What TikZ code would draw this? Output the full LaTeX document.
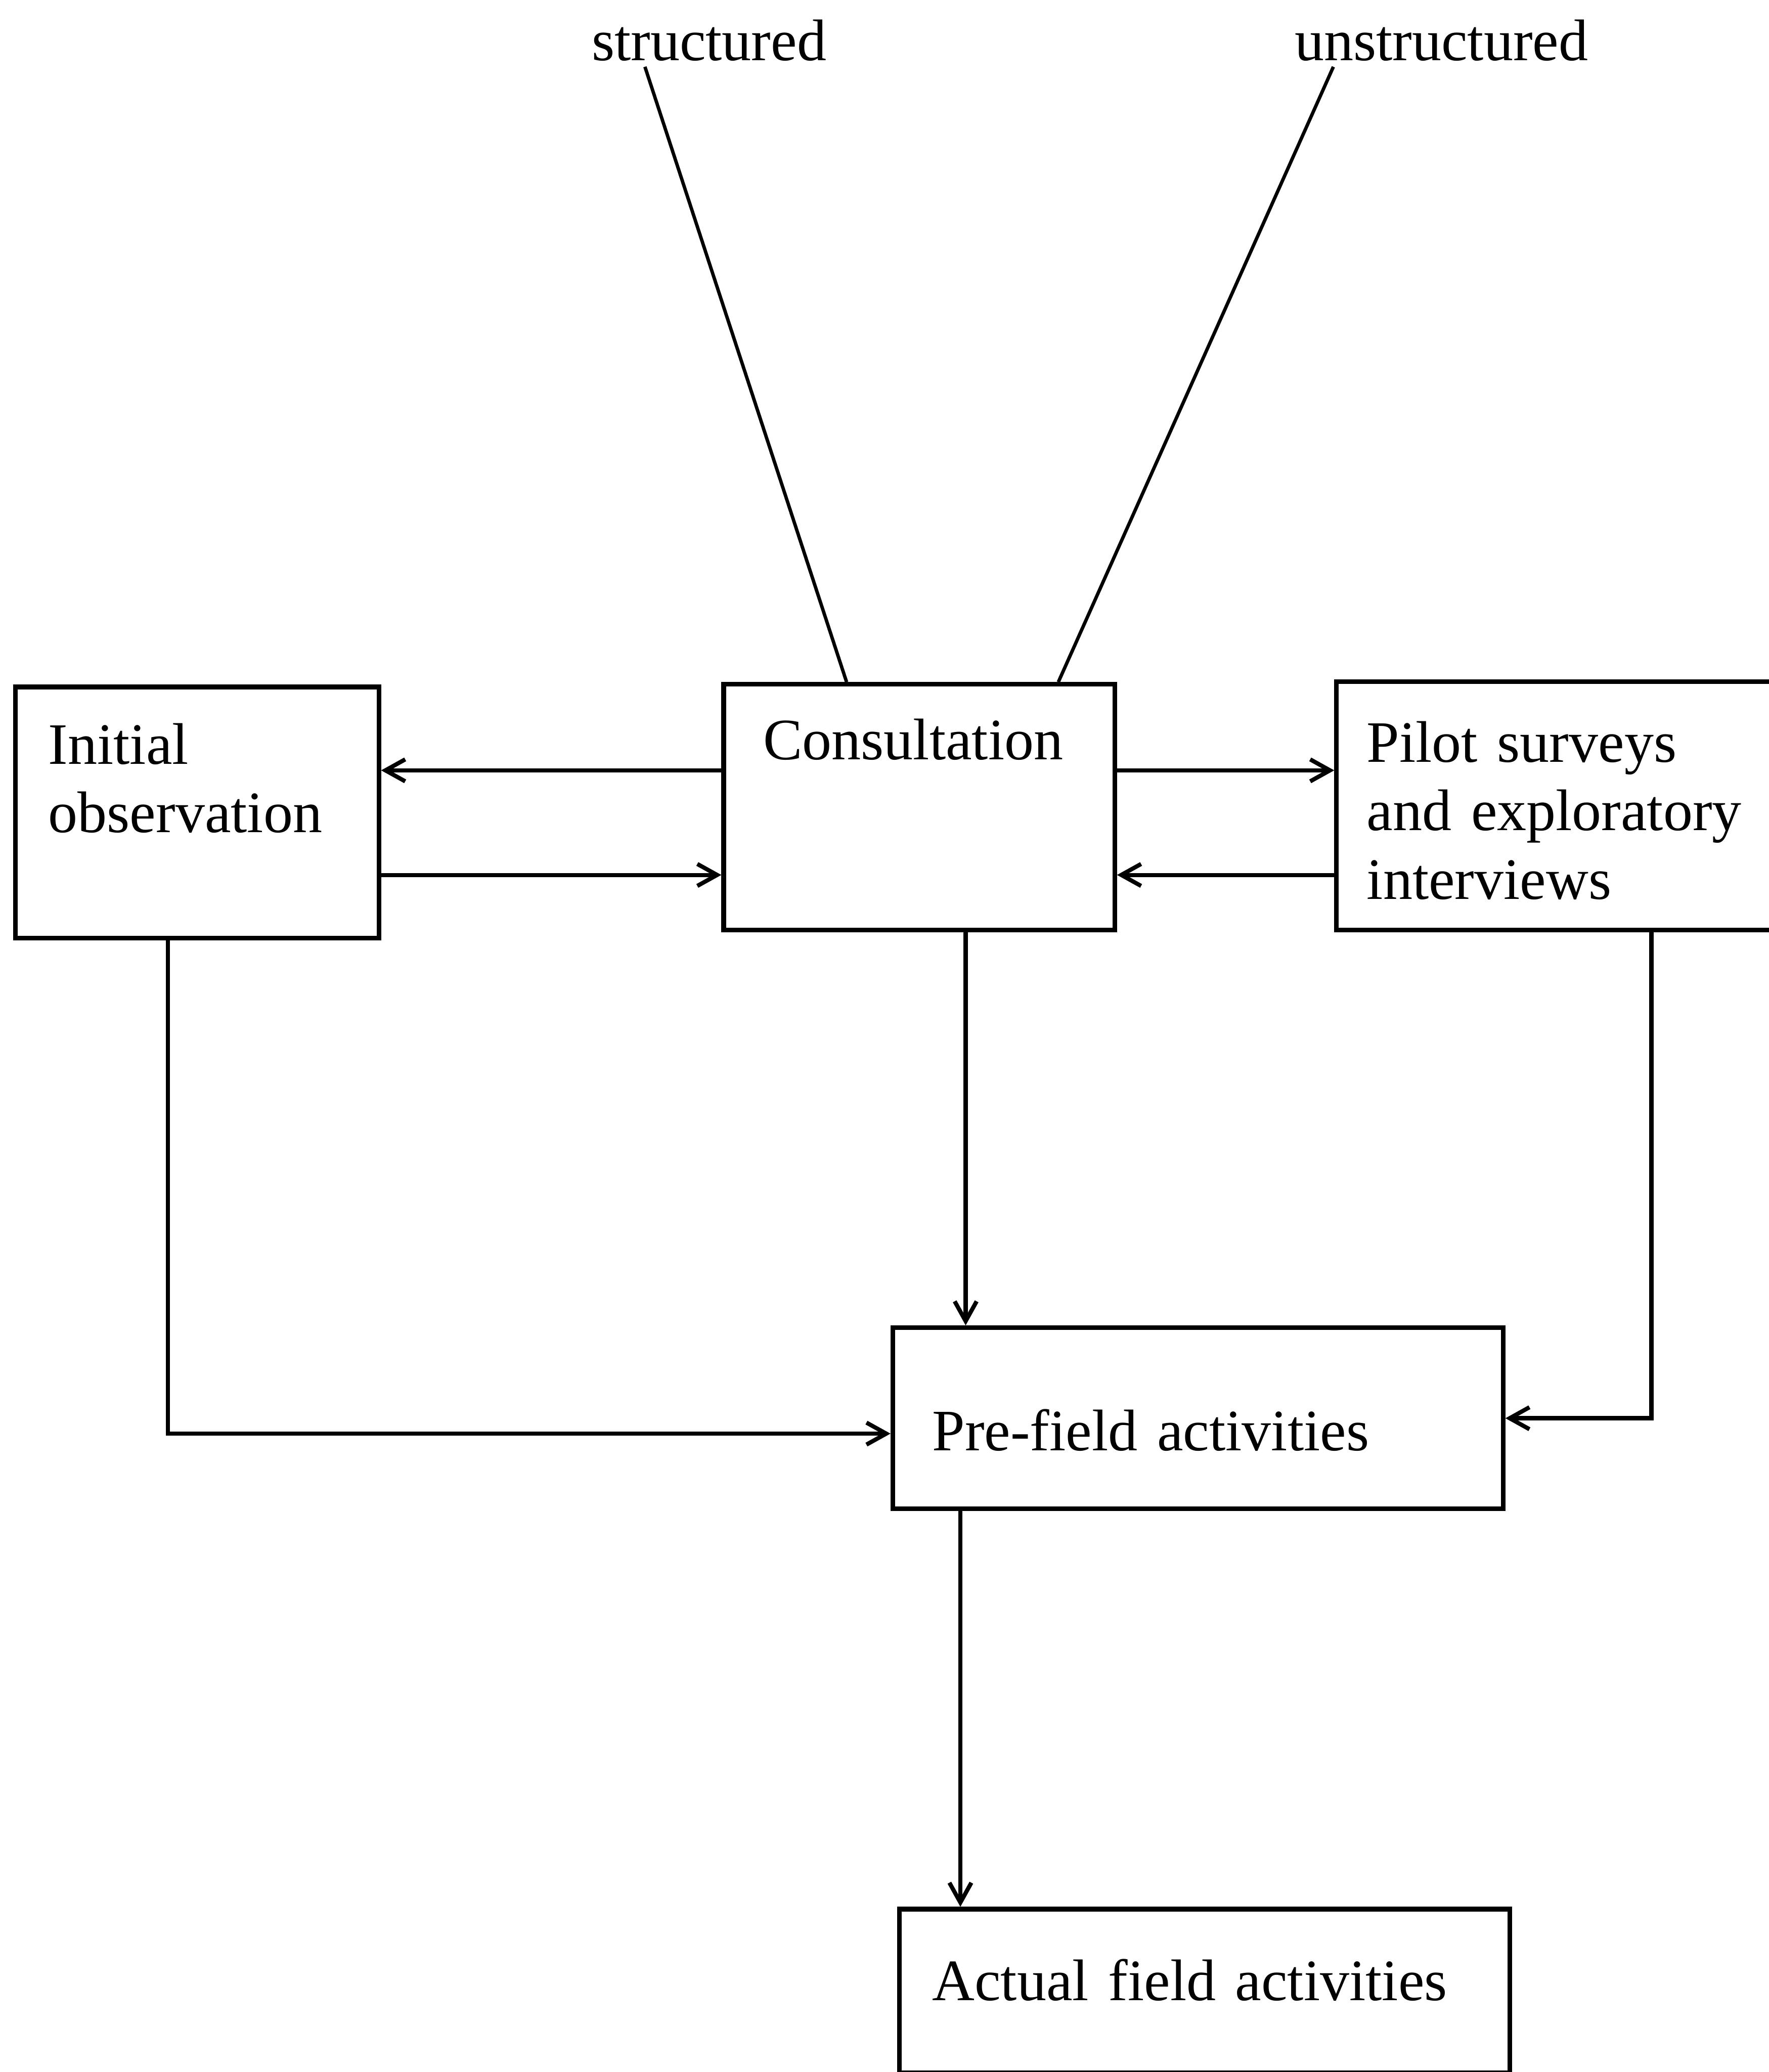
\documentclass[tikz,border=0pt]{standalone}
\usepackage{fontspec}
\setmainfont{Liberation Serif}
\usetikzlibrary{arrows.meta, positioning, calc}
\tikzset{
    procBox/.style={
        draw, rectangle, line width=3pt, anchor=north west,
        align=left, inner ysep=0pt,
        font=\fontsize{38}{44.3}\selectfont
    },
    choiceLabel/.style={
        anchor=base, inner sep=0.13cm,
        font=\fontsize{38}{44.3}\selectfont
    },
    flowArrow/.style={
        -{Straight Barb[length=4.5mm, width=5mm]},
        line width=2.7pt
    },
    leadLine/.style={
        line width=2.2pt
    }
}

\begin{document}
\begin{tikzpicture}

	\useasboundingbox (0,0) rectangle (40.26,-47.15);

	% =========================================================
	% Stages
	% =========================================================

	\node [procBox, text width=6.77cm, inner xsep=0.75cm,
		text height=1.75cm, text depth=3.96cm] (init) at (0.30,-15.58) {
		Initial\\observation
	};

	\node [procBox, text width=7.10cm, inner xsep=0.90cm,
		text height=1.71cm, text depth=3.88cm] (consult) at (16.42,-15.52) {
		Consultation
	};

	\node [procBox, text width=8.95cm, inner xsep=0.69cm,
		text height=1.83cm, text depth=3.82cm] (pilot) at (30.37,-15.46) {
		Pilot surveys\\and exploratory\\interviews
	};

	\node [procBox, text width=12.09cm, inner xsep=0.90cm,
		text height=2.80cm, text depth=1.32cm] (pre) at (20.27,-30.16) {
		Pre-field activities
	};

	\node [procBox, text width=12.39cm, inner xsep=0.75cm,
		text height=2.08cm, text depth=1.65cm] (act) at (20.42,-43.39) {
		Actual field activities
	};

	% =========================================================
	% Kinds of consultation
	% =========================================================

	\node [choiceLabel] (struct) at (16.14,-1.37) {structured};
	\node [choiceLabel] (unstruct) at (32.81,-1.37) {unstructured};

	\draw [leadLine] ([xshift=-1.46cm]struct.south) -- ([xshift=2.85cm]consult.north west);
	\draw [leadLine] ([xshift=-2.46cm]unstruct.south) -- ([xshift=7.67cm]consult.north west);

	% =========================================================
	% Exchanges around consultation
	% =========================================================

	\coordinate (cw1) at ([yshift=-2.01cm]consult.north west);
	\coordinate (cw2) at ([yshift=-4.39cm]consult.north west);
	\coordinate (ce1) at ([yshift=-2.01cm]consult.north east);
	\coordinate (ce2) at ([yshift=-4.39cm]consult.north east);

	\draw [flowArrow] (cw1) -- (cw1 -| init.east);
	\draw [flowArrow] (cw2 -| init.east) -- (cw2);
	\draw [flowArrow] (ce1) -- (ce1 -| pilot.west);
	\draw [flowArrow] (ce2 -| pilot.west) -- (ce2);

	% =========================================================
	% Towards the field
	% =========================================================

	\coordinate (cs) at ([xshift=5.56cm]consult.south west);
	\coordinate (ps) at ([xshift=1.59cm]pre.south west);

	\draw [flowArrow] (cs) -- (cs |- pre.north);
	\draw [flowArrow] ([xshift=3.52cm]init.south west) |- ([yshift=-0.35cm]pre.west);
	\draw [flowArrow] ([xshift=7.22cm]pilot.south west) |- (pre.east);
	\draw [flowArrow] (ps) -- (ps |- act.north);

\end{tikzpicture}
\end{document}
